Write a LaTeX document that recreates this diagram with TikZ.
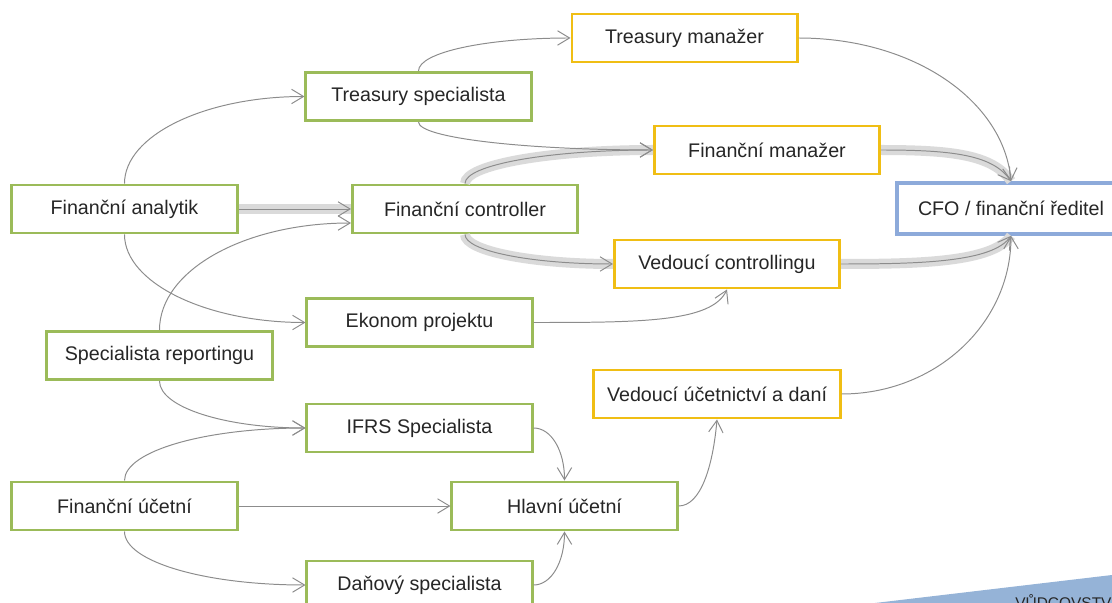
\documentclass[tikz,border=0pt]{standalone}
\usepackage{fontspec}
\setmainfont{Liberation Sans}
\usepackage{tikz}
\usetikzlibrary{arrows.meta}
\usetikzlibrary{positioning}

\definecolor{kgreen}{RGB}{155,187,89}
\definecolor{kyellow}{RGB}{240,190,20}
\definecolor{kblue}{RGB}{141,170,218}
\definecolor{kwedge}{RGB}{149,179,215}
\definecolor{kline}{RGB}{140,140,140}
\definecolor{kband}{RGB}{218,218,218}
\definecolor{ktext}{RGB}{38,38,38}

\begin{document}
\begin{tikzpicture}[x=0.025cm,y=-0.025cm]
      \tikzset{
         jobbox/.style = {
            rectangle, draw, line width=2.1pt, fill=white,
            minimum width=5.625cm, minimum height=1.2cm,
            inner sep=2pt, text=ktext,
            font=\fontsize{14pt}{16pt}\selectfont
         },
         entrybox/.style = {jobbox, draw=kgreen},
         seniorbox/.style = {jobbox, draw=kyellow},
         chiefbox/.style = {jobbox, draw=kblue, line width=2.6pt, minimum width=5.7cm, minimum height=1.275cm},
         move/.style = {draw=kline, line width=0.7pt, -{Straight Barb[length=0.3cm,width=0.36cm]}},
         mainmove/.style = {move, preaction={draw=kband, line width=0.25cm, -}}
      }
      \useasboundingbox (0,0) rectangle (1112,603);
      \clip (0,0) rectangle (1112,603);
      % leadership wedge
      \fill[kwedge] (875,603) -- (1112,575) -- (1112,603) -- cycle;
      \node[anchor=base west, inner sep=0pt, text=ktext, font=\fontsize{11pt}{13pt}\selectfont] (lead) at (1015,608) {VŮDCOVSTVÍ};
      % positions
      \node[entrybox] (fanal) at (124.5,209) {Finanční analytik};
      \node[entrybox] (tspec) at (418.5,96.5) {Treasury specialista};
      \node[entrybox] (fcont) at (465,209) {Finanční controller};
      \node[entrybox] (ekon) at (419.5,322.5) {Ekonom projektu};
      \node[entrybox] (srep) at (159.5,355.5) {Specialista reportingu};
      \node[entrybox] (ifrs) at (419.5,428) {IFRS Specialista};
      \node[entrybox] (fucet) at (124.5,506) {Finanční účetní};
      \node[entrybox] (hucet) at (564.5,506) {Hlavní účetní};
      \node[entrybox] (dspec) at (419.5,585) {Daňový specialista};
      \node[seniorbox] (tman) at (684.5,38) {Treasury manažer};
      \node[seniorbox] (fman) at (767,150) {Finanční manažer};
      \node[seniorbox] (vcont) at (727,264) {Vedoucí controllingu};
      \node[seniorbox, minimum width=6.15cm] (vucet) at (717,394) {Vedoucí účetnictví a daní};
      \node[chiefbox] (cfo) at (1011,208.5) {CFO / finanční ředitel};
      % main path
      \draw[mainmove] (fanal) -- (fcont);
      \draw[mainmove] (fcont.north) to[out=90, in=180, out distance=0.47cm, in distance=2.6cm] (fman.west);
      \draw[mainmove] (fcont.south) to[out=-90, in=180, out distance=0.41cm, in distance=2.05cm] (vcont.west);
      \draw[mainmove] (fman.east) to[out=0, in=125, out distance=1.8cm, in distance=0.8cm] (cfo.north);
      \draw[mainmove] (vcont.east) to[out=0, in=-125, out distance=2cm, in distance=0.8cm] (cfo.south);
      % other moves
      \draw[move] (fanal.north) to[out=90, in=180, out distance=1.2cm, in distance=2.5cm] (tspec.west);
      \draw[move] (fanal.south) to[out=-90, in=180, out distance=1.2cm, in distance=2.5cm] (ekon.west);
      \draw[move] (tspec.north) to[out=90, in=180, out distance=0.47cm, in distance=2.1cm] (tman.west);
      \draw[move] (tspec.south) to[out=-90, in=180, out distance=0.4cm, in distance=3.2cm] (fman.west);
      \draw[move] (tman.east) to[out=0, in=95, out distance=2.9cm, in distance=2cm] (cfo.north);
      \draw[move] (srep.north) to[out=90, in=180, out distance=1.5cm, in distance=2.65cm] ([yshift=-0.35cm]fcont.west);
      \draw[move] (srep.south) to[out=-90, in=180, out distance=0.66cm, in distance=2cm] (ifrs.west);
      \draw[move] (fucet.north) to[out=90, in=180, out distance=0.74cm, in distance=2.5cm] (ifrs.west);
      \draw[move] (ekon.east) to[out=0, in=-115, out distance=2.7cm, in distance=0.9cm] (vcont.south);
      \draw[move] (vucet.east) to[out=0, in=-90, out distance=2.35cm, in distance=2.2cm] (cfo.south);
      \draw[move] (ifrs.east) to[out=0, in=90, out distance=0.45cm, in distance=0.74cm] (hucet.north);
      \draw[move] (fucet) -- (hucet);
      \draw[move] (fucet.south) to[out=-90, in=180, out distance=0.76cm, in distance=2.5cm] (dspec.west);
      \draw[move] (dspec.east) to[out=0, in=-90, out distance=0.45cm, in distance=0.76cm] (hucet.south);
      \draw[move] (hucet.east) to[out=0, in=-95, out distance=0.55cm, in distance=1.2cm] (vucet.south);
    \end{tikzpicture}
\end{document}
